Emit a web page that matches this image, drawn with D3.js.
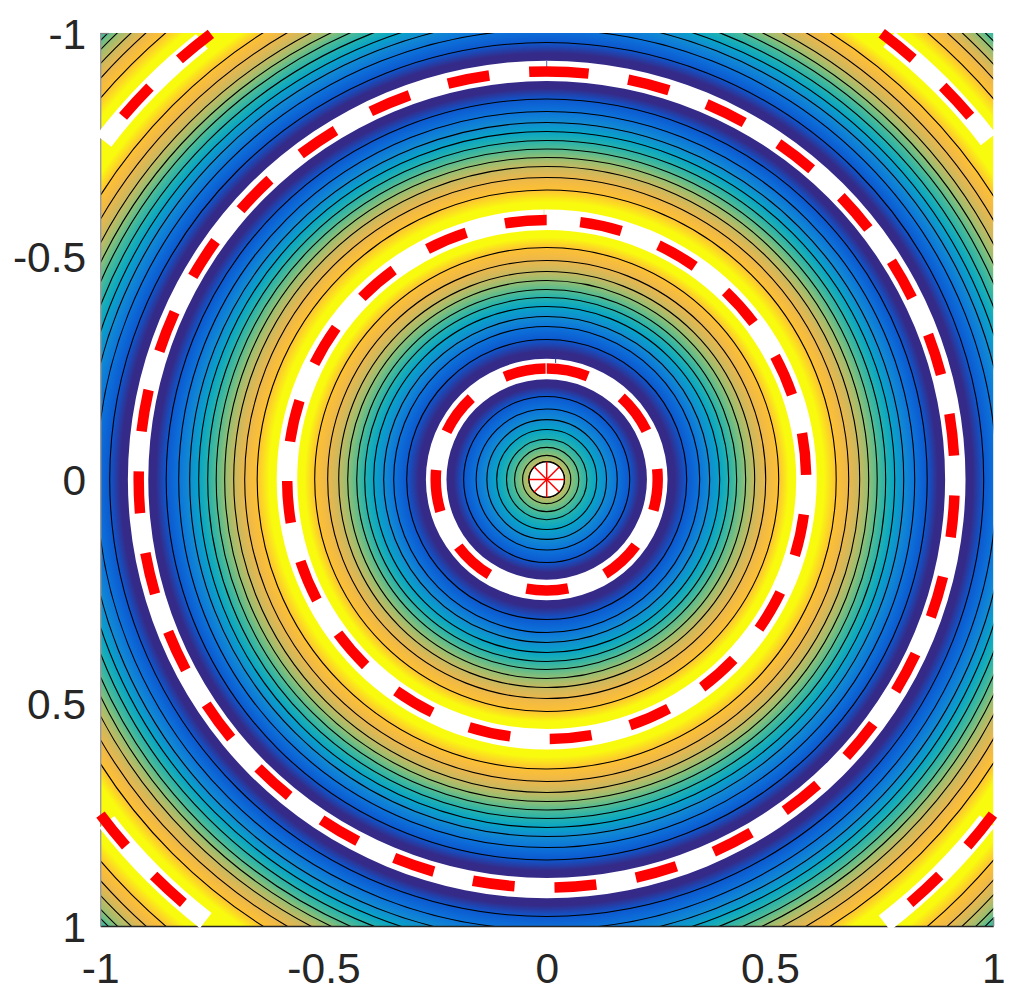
<!DOCTYPE html>
<html>
<head>
<meta charset="utf-8">
<script src="https://cdn.jsdelivr.net/npm/d3@7"></script>
<style>
    html, body { margin: 0; padding: 0; background: #fff; }
    text { font-family: "Liberation Sans", Arial, sans-serif; }
</style>
</head>
<body>
<div id="chart"></div>
<script>

const tickValues = [-1, -0.5, 0, 0.5, 1];
const tickLabels = ["-1", "-0.5", "0", "0.5", "1"];

// contour radii, inside to outside, and the level each one belongs to
const contourRadii = [
    0.040, 0.054, 0.072, 0.090, 0.112, 0.134, 0.158, 0.186,
    0.3136, 0.3427, 0.3651, 0.3875, 0.4076, 0.4255, 0.4457, 0.4658, 0.4905, 0.5196,
    0.6484, 0.6764, 0.7010, 0.7212, 0.7402, 0.7592, 0.7794, 0.7996, 0.8242, 0.8522,
    0.9787, 1.0078, 1.0325, 1.0526, 1.0728, 1.0929, 1.1109, 1.1310, 1.1568, 1.1848,
    1.3147, 1.3438, 1.3662, 1.3875, 1.4020
];
const contourLevels = [
    8, 7, 6, 5, 4, 3, 2, 1,
    1, 2, 3, 4, 5, 6, 7, 8, 9, 10,
    10, 9, 8, 7, 6, 5, 4, 3, 2, 1,
    1, 2, 3, 4, 5, 6, 7, 8, 9, 10,
    10, 9, 8, 7, 6
];

// white bands around the nodal circles, and the colour value on both sides of them
const bandInner = [0.2245, 0.5588, 0.8923, 1.2273];
const bandOuter = [0.2705, 0.6047, 0.9380, 1.2699];
const bandValues = [0, 1, 0, 1];
// the colour stays flat this far out from a white band
const bandPlateau = 0.016;

// the last white band only exists in the corners (degrees clockwise from the top)
const cornerBandStart = [-38.2, 37.9, 127.8, -127.9];
const cornerBandEnd = [-52.6, 52.4, 142.7, -142.3];

// red dashed nodal lines
const nodalRadii = [0.2486, 0.5812, 0.9138];
const nodalGaps = [39.7, 39.8, 40.1];
const nodalClockwise = [true, false, true];
const cornerNodalRadius = 1.2497;
const cornerDashStart = [-37, 36.9, 126.9, -126.9];
const cornerDashEnd = [-49.4, 49.5, 139.4, -139.5];

// small seams left in the white bands
const seamX = [0.02, -0.006, 0];
const seamTop = [-0.274, -0.605, -0.9395];
const seamBottom = [-0.261, -0.592, -0.9127];
const seamColors = ["#2b3f94", "#efe6a0", "#5a6aa8"];

const centerRadius = 0.0396;
const spokeAngles = [0, 45, 90, 135, 180, 225, 270, 315];

// parula
const parula = ["#352a87", "#0363e1", "#1485d4", "#06a7c6", "#38b99e", "#92bf73", "#dcb658", "#ffb938", "#f9fb0e"];

const width = 1018;
const height = 1006;

const svg = d3.select("#chart")
    .append("svg")
    .attr("width", width)
    .attr("height", height)
    .style("display", "block");

const xScale = d3.scaleLinear().domain([-1, 1]).range([100.2, 993.2]);
const yScale = d3.scaleLinear().domain([-1, 1]).range([33, 926]);
const rScale = d3.scaleLinear().domain([0, 1]).range([0, 446.5]);
const levelScale = d3.scaleLinear().domain([1, 10]).range([0.10, 0.89]);
const colorScale = d3.scaleLinear()
    .domain(parula.map(function(c, i) { return i / (parula.length - 1); }))
    .range(parula);

const cx = xScale(0);
const cy = yScale(0);

/*
SURFACE: radial gradient whose stops are the contours and the band edges
*/
let stops = [{r: 0, v: levelScale(8.6)}, {r: 1.42, v: levelScale(5.2)}];
contourRadii.forEach(function(r, i) {
    stops.push({r: r, v: levelScale(contourLevels[i])});
});
bandInner.forEach(function(r, i) {
    stops.push({r: r - bandPlateau, v: bandValues[i]});
    stops.push({r: r, v: bandValues[i]});
    stops.push({r: bandOuter[i], v: bandValues[i]});
    stops.push({r: bandOuter[i] + bandPlateau, v: bandValues[i]});
});
stops.sort(function(a, b) { return a.r - b.r; });

const defs = svg.append("defs");

const gradient = defs.append("radialGradient")
    .attr("id", "surface")
    .attr("gradientUnits", "userSpaceOnUse")
    .attr("cx", cx)
    .attr("cy", cy)
    .attr("r", rScale(1.42));

gradient.selectAll("stop")
    .data(stops)
    .enter()
    .append("stop")
    .attr("offset", function(d) { return d.r / 1.42; })
    .attr("stop-color", function(d) { return colorScale(d.v); });

defs.append("clipPath")
    .attr("id", "plotClip")
    .append("rect")
    .attr("x", xScale(-1))
    .attr("y", yScale(-1))
    .attr("width", xScale(1) - xScale(-1))
    .attr("height", yScale(1) - yScale(-1));

svg.append("rect")
    .attr("x", xScale(-1))
    .attr("y", yScale(-1))
    .attr("width", xScale(1) - xScale(-1))
    .attr("height", yScale(1) - yScale(-1))
    .attr("fill", "url(#surface)");

/*
CONTOURS
*/
svg.append("g")
    .attr("clip-path", "url(#plotClip)")
    .selectAll("circle")
    .data(contourRadii)
    .enter()
    .append("circle")
    .attr("cx", cx)
    .attr("cy", cy)
    .attr("r", function(d) { return rScale(d); })
    .attr("fill", "none")
    .attr("stroke", "#000")
    .attr("stroke-width", 1.1);

/*
AXES
*/
const labelFormat = function(d, i) { return tickLabels[i]; };

const xAxis = svg.append("g")
    .attr("transform", `translate(0,${yScale(1)})`)
    .call(d3.axisBottom(xScale).tickValues(tickValues).tickFormat(labelFormat).tickSize(0).tickPadding(27));

const yAxis = svg.append("g")
    .attr("transform", `translate(${xScale(-1)},0)`)
    .call(d3.axisLeft(yScale).tickValues(tickValues).tickFormat(labelFormat).tickSize(0).tickPadding(14));

svg.selectAll(".tick text")
    .attr("font-size", 42.5)
    .attr("font-family", "'Liberation Sans', Arial, sans-serif")
    .attr("fill", "#262626");

yAxis.selectAll(".tick text").attr("dy", "0.36em");

xAxis.select(".domain").attr("stroke", "#262626").attr("stroke-width", 1.4);
yAxis.select(".domain").attr("stroke", "#9a9a9a").attr("stroke-width", 1.4);

// only the corner ticks show, the surface hides the others
yAxis.selectAll(".tick line")
    .filter(function(d) { return d === -1; })
    .attr("x2", 9)
    .attr("stroke", "#808080")
    .attr("stroke-width", 1.2);
xAxis.selectAll(".tick line")
    .filter(function(d) { return d === 1; })
    .attr("y2", -9)
    .attr("stroke", "#808080")
    .attr("stroke-width", 1.2);

/*
WHITE BANDS
*/
const bandArc = d3.arc();
const deg = Math.PI / 180;

const whiteBands = svg.append("g")
    .attr("transform", `translate(${cx},${cy})`);

bandInner.slice(0, 3).forEach(function(r, i) {
    whiteBands.append("path")
        .attr("d", bandArc({
            innerRadius: rScale(r),
            outerRadius: rScale(bandOuter[i]),
            startAngle: 0,
            endAngle: 2 * Math.PI
        }))
        .attr("fill", "#fff");
});

cornerBandStart.forEach(function(a, i) {
    whiteBands.append("path")
        .attr("d", bandArc({
            innerRadius: rScale(bandInner[3]),
            outerRadius: rScale(bandOuter[3]),
            startAngle: a * deg,
            endAngle: cornerBandEnd[i] * deg
        }))
        .attr("fill", "#fff");
});

svg.append("g")
    .selectAll("line")
    .data(seamX)
    .enter()
    .append("line")
    .attr("x1", function(d) { return xScale(d); })
    .attr("x2", function(d) { return xScale(d); })
    .attr("y1", function(d, i) { return yScale(seamTop[i]); })
    .attr("y2", function(d, i) { return yScale(seamBottom[i]); })
    .attr("stroke", function(d, i) { return seamColors[i]; })
    .attr("stroke-width", 1);

/*
RED DASHED LINES
*/
nodalRadii.forEach(function(r, i) {
    svg.append("circle")
        .attr("r", rScale(r))
        .attr("transform", `translate(${cx},${cy}) rotate(-90)` + (nodalClockwise[i] ? "" : " scale(1,-1)"))
        .attr("fill", "none")
        .attr("stroke", "#ff0000")
        .attr("stroke-width", 10.5)
        .attr("stroke-dasharray", `42 ${nodalGaps[i]}`);
});

cornerDashStart.forEach(function(a, i) {
    const b = cornerDashEnd[i];
    const p = d3.path();
    p.arc(cx, cy, rScale(cornerNodalRadius), (a - 90) * deg, (b - 90) * deg, b < a);
    svg.append("path")
        .attr("d", p.toString())
        .attr("fill", "none")
        .attr("stroke", "#ff0000")
        .attr("stroke-width", 10.5)
        .attr("stroke-dasharray", "40.5 40.5");
});

/*
CENTER
*/
svg.append("circle")
    .attr("cx", cx)
    .attr("cy", cy)
    .attr("r", rScale(centerRadius))
    .attr("fill", "#fff")
    .attr("stroke", "#000")
    .attr("stroke-width", 1.3);

svg.append("g")
    .selectAll("line")
    .data(spokeAngles)
    .enter()
    .append("line")
    .attr("x1", cx)
    .attr("y1", cy)
    .attr("x2", function(d) { return cx + rScale(centerRadius) * Math.cos(d * deg); })
    .attr("y2", function(d) { return cy + rScale(centerRadius) * Math.sin(d * deg); })
    .attr("stroke", "#ff0000")
    .attr("stroke-width", 1.5);

</script>
</body>
</html>
